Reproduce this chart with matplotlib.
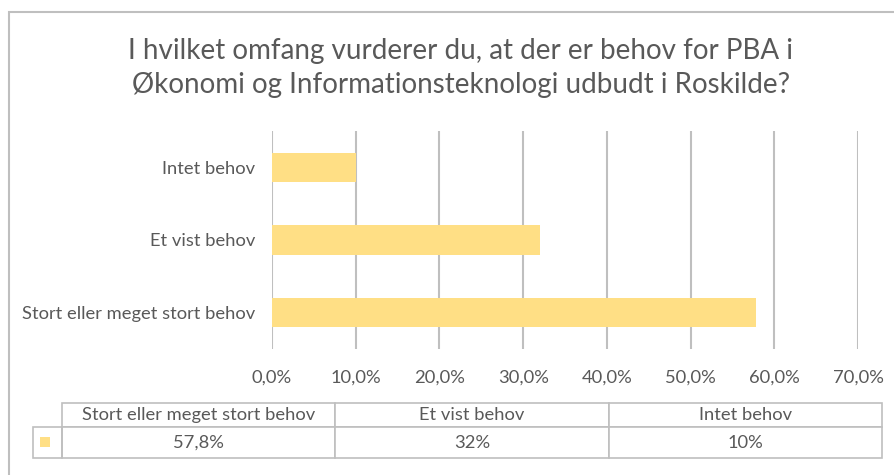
import matplotlib
matplotlib.use("Agg")
import matplotlib.pyplot as plt
from matplotlib.patches import Rectangle

# data
categories = ["Stort eller meget stort behov", "Et vist behov", "Intet behov"]
values = [57.8, 32.0, 10.0]
table_labels = ["57,8%", "32%", "10%"]
xticks = [0, 10, 20, 30, 40, 50, 60, 70]
xtick_labels = ["0,0%", "10,0%", "20,0%", "30,0%", "40,0%", "50,0%", "60,0%", "70,0%"]
title = ("I hvilket omfang vurderer du, at der er behov for PBA i\n"
         "Økonomi og Informationsteknologi udbudt i Roskilde?")

bar_color = "#FFDF85"
text_color = "#595959"
grid_color = "#BFBFBF"

plt.rcParams['font.family'] = ['Lato', 'DejaVu Sans']

W, H = 894, 475
fig = plt.figure(figsize=(W / 100, H / 100), dpi=100)


def fx(px):
    return px / W


def fy(py):
    return 1 - py / H


# outer chart frame (right/bottom edges fall outside the picture)
fig.patches.append(Rectangle((fx(9), fy(500)), 1.2, fy(12) - fy(500),
                             transform=fig.transFigure, fill=False,
                             edgecolor="#BFBFBF", lw=1.5))

fig.text(fx(461), fy(68), title, ha="center", va="center", fontsize=20,
         color=text_color, linespacing=1.35)

# bar chart
ax = fig.add_axes([fx(272), fy(349), fx(858) - fx(272), fy(131) - fy(349)])
ypos = range(len(categories))
ax.barh(ypos, values, height=0.4, color=bar_color, zorder=3)
ax.set_xlim(0, 70)
ax.set_ylim(-0.5, len(categories) - 0.5)
ax.set_xticks(xticks)
ax.set_xticklabels(xtick_labels)
ax.set_yticks(list(ypos))
ax.set_yticklabels(categories)
ax.grid(axis="x", color=grid_color, lw=1.5, zorder=0)
for s in ax.spines.values():
    s.set_visible(False)
ax.tick_params(length=0, colors=text_color, labelsize=13.2)
ax.tick_params(axis="x", pad=14.5)
ax.tick_params(axis="y", pad=12)

# data table under the chart
tax = fig.add_axes([fx(62), fy(458), fx(882) - fx(62), fy(403) - fy(458)])
tax.axis("off")
tbl = tax.table(cellText=[table_labels], colLabels=categories,
                cellLoc="center", bbox=[0, 0, 1, 1])
tbl.auto_set_font_size(False)
for (r, c), cell in tbl.get_celld().items():
    cell.set_edgecolor(grid_color)
    cell.set_linewidth(1.2)
    cell.get_text().set_color(text_color)
    cell.get_text().set_fontsize(13.2)
    cell.set_height(24 if r == 0 else 31)

# legend key cell
kx0 = -(62 - 33) / (882 - 62)
tax.add_patch(Rectangle((kx0, 0), -kx0, 31 / 55, transform=tax.transAxes,
                        fill=False, edgecolor=grid_color, lw=1.2, clip_on=False))
tax.add_patch(Rectangle((kx0 + 7 / 820, 11 / 55), 10 / 820, 10 / 55,
                        transform=tax.transAxes, facecolor=bar_color,
                        edgecolor="none", clip_on=False))

fig.savefig("out.png", dpi=100)
